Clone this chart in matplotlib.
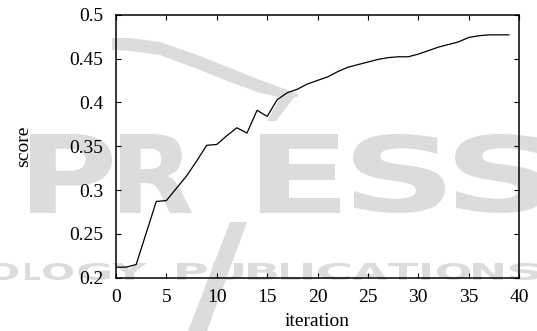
import matplotlib
matplotlib.use("Agg")
import matplotlib.pyplot as plt
import numpy as np
from matplotlib.textpath import TextPath
from matplotlib.patches import PathPatch, Polygon
from matplotlib.font_manager import FontProperties
from matplotlib.transforms import Affine2D

# ---- data ----
iterations = list(range(40))
scores = [0.212, 0.212, 0.215, 0.251, 0.287, 0.288, 0.302, 0.316, 0.333, 0.351,
          0.352, 0.362, 0.371, 0.365, 0.391, 0.384, 0.403, 0.411, 0.415, 0.421,
          0.425, 0.429, 0.435, 0.440, 0.443, 0.446, 0.449, 0.451, 0.452, 0.452,
          0.455, 0.459, 0.463, 0.466, 0.469, 0.474, 0.476, 0.477, 0.477, 0.477]
x_ticks = [0, 5, 10, 15, 20, 25, 30, 35, 40]
y_ticks = [0.2, 0.25, 0.3, 0.35, 0.4, 0.45, 0.5]
y_tick_labels = ["0.2", "0.25", "0.3", "0.35", "0.4", "0.45", "0.5"]

W, H = 537, 331
fig = plt.figure(figsize=(W / 100, H / 100), dpi=100)
plt.rcParams['font.family'] = ['Liberation Serif', 'DejaVu Serif']

wm = '#dcdcdc'

def px(x, y):
    return (x / W, 1 - y / H)

def wm_letter(ch, x0, x1, ytop, ybot):
    fp = FontProperties(family='DejaVu Sans', weight='bold')
    tp = TextPath((0, 0), ch, size=1, prop=fp)
    ext = tp.get_extents()
    sx = (x1 - x0) / ext.width / W
    sy = (ybot - ytop) / ext.height / H
    tr = (Affine2D().translate(-ext.x0, -ext.y0).scale(sx, sy)
          .translate(x0 / W, 1 - ybot / H) + fig.transFigure)
    fig.patches.append(PathPatch(tp, transform=tr, fc=wm, ec='none', zorder=-5))

# watermark: PRESS
for ch, a, b in [('P', 30, 112), ('R', 120, 192), ('E', 260, 340),
                 ('S', 353, 445), ('S', 455, 547)]:
    wm_letter(ch, a, b, 134, 213)

# watermark: bottom row
for ch, a, b in [('O', -12, 18), ('L', 25, 40), ('O', 43, 73), ('G', 78, 110),
                 ('Y', 112, 147), ('P', 177, 207), ('U', 213, 243), ('B', 248, 277),
                 ('L', 281, 300), ('I', 303, 312), ('C', 318, 350), ('A', 353, 387),
                 ('T', 388, 418), ('I', 422, 430), ('O', 437, 470), ('N', 473, 503),
                 ('S', 510, 540)]:
    wm_letter(ch, a, b, 263, 280)

# swoosh
top = [(112, 38), (130, 38), (160, 42), (200, 56), (230, 68), (260, 80), (285, 89), (298, 94)]
bot = [(298, 97), (285, 98), (260, 93), (230, 82), (200, 70), (160, 55), (130, 51), (112, 50)]
fig.patches.append(Polygon([px(*p) for p in top + bot], closed=True, fc=wm, ec='none',
                           transform=fig.transFigure, zorder=-5))
# accent slash
fig.patches.append(Polygon([px(282, 95), px(296, 95), px(276, 121), px(267, 121)], closed=True,
                           fc=wm, ec='none', transform=fig.transFigure, zorder=-5))
# lower slash
fig.patches.append(Polygon([px(230, 222), px(247, 222), px(207, 331), px(188, 331)], closed=True,
                           fc=wm, ec='none', transform=fig.transFigure, zorder=-5))

ax = fig.add_axes([116 / W, 1 - 277.7 / H, (519 - 116) / W, (277.7 - 14.7) / H])
ax.set_zorder(2)
ax.set_facecolor('none')
ax.plot(iterations, scores, color='black', linewidth=0.9)
ax.set_xlim(0, 40)
ax.set_ylim(0.2, 0.5)
ax.set_xticks(x_ticks)
ax.set_yticks(y_ticks)
ax.set_yticklabels(y_tick_labels)
ax.tick_params(direction='in', length=3.5, width=0.8, top=True, right=True,
               labelsize=14)
ax.tick_params(axis='x', pad=8)
ax.tick_params(axis='y', pad=9)
for s in ax.spines.values():
    s.set_linewidth(1.1)
ax.set_xlabel('iteration', fontsize=14, labelpad=5)
ax.set_ylabel('score', fontsize=14, labelpad=27)

fig.savefig('out.png', dpi=100)
